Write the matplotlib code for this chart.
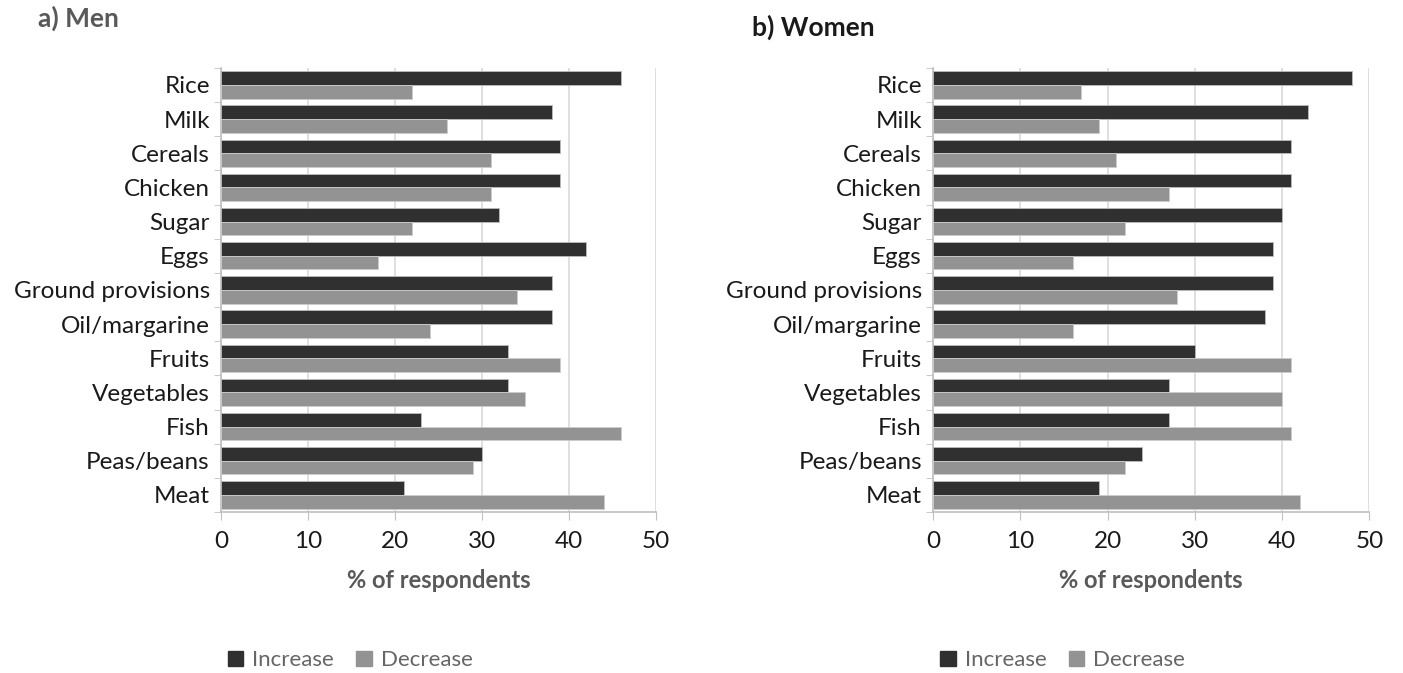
import matplotlib.pyplot as plt
import numpy as np
from matplotlib.patches import Patch

categories = ["Rice", "Milk", "Cereals", "Chicken", "Sugar", "Eggs",
              "Ground provisions", "Oil/margarine", "Fruits", "Vegetables",
              "Fish", "Peas/beans", "Meat"]

men_increase = [46, 38, 39, 39, 32, 42, 38, 38, 33, 33, 23, 30, 21]
men_decrease = [22, 26, 31, 31, 22, 18, 34, 24, 39, 35, 46, 29, 44]

women_increase = [48, 43, 41, 41, 40, 39, 39, 38, 30, 27, 27, 24, 19]
women_decrease = [17, 19, 21, 27, 22, 16, 28, 16, 41, 40, 41, 22, 42]

x_ticks = [0, 10, 20, 30, 40, 50]

plt.rcParams['font.family'] = ['Lato', 'DejaVu Sans']

dark = '#303030'
light = '#939393'
textgray = '#595959'

fig = plt.figure(figsize=(14.03, 6.73), dpi=100)


def draw_panel(ax, inc, dec):
    y = np.arange(len(categories))
    h = 0.4
    ax.barh(y - h / 2, inc, height=h, color=dark, edgecolor='#bbbbbb', linewidth=0.6, zorder=3)
    ax.barh(y + h / 2, dec, height=h, color=light, edgecolor='#cccccc', linewidth=0.6, zorder=3)
    ax.set_ylim(len(categories) - 0.5, -0.5)
    ax.set_xlim(0, 50)
    ax.set_xticks(x_ticks)
    ax.set_xticklabels([str(t) for t in x_ticks], fontsize=17.5, color='#1a1a1a')
    ax.set_yticks(y)
    ax.set_yticklabels(categories, fontsize=17.5, color='#1a1a1a')
    ax.set_yticks(np.arange(len(categories) + 1) - 0.5, minor=True)
    ax.tick_params(axis='y', which='major', length=0, pad=8)
    ax.tick_params(axis='y', which='minor', length=5, color='#bfbfbf')
    ax.tick_params(axis='x', length=6, color='#bfbfbf', pad=8)
    ax.grid(axis='x', color='#d9d9d9', linewidth=1.2, zorder=0)
    for s in ['top', 'right']:
        ax.spines[s].set_visible(False)
    ax.spines['left'].set_color('#bfbfbf')
    ax.spines['bottom'].set_color('#bfbfbf')
    ax.spines['left'].set_linewidth(1.2)
    ax.spines['bottom'].set_linewidth(1.2)
    ax.set_xlabel('% of respondents', fontsize=17, fontweight='bold', color=textgray, labelpad=12)


ax1 = fig.add_axes([0.1575, 0.2392, 0.310, 0.660])
draw_panel(ax1, men_increase, men_decrease)

ax2 = fig.add_axes([0.665, 0.2392, 0.311, 0.660])
draw_panel(ax2, women_increase, women_decrease)

fig.text(0.027, 0.973, 'a) Men', fontsize=19, fontweight='bold', color=textgray, va='center')
fig.text(0.536, 0.960, 'b) Women', fontsize=19, fontweight='bold', color='#1a1a1a', va='center')

handles = [Patch(color=dark, label='Increase'), Patch(color=light, label='Decrease')]
for xpos in [0.148, 0.656]:
    fig.legend(handles=handles, loc='center left', bbox_to_anchor=(xpos, 0.019),
               ncol=2, frameon=False, fontsize=16, handlelength=0.7, handleheight=0.7,
               handletextpad=0.4, columnspacing=1.0, labelcolor='#666666')

plt.savefig('out.png', dpi=100)
